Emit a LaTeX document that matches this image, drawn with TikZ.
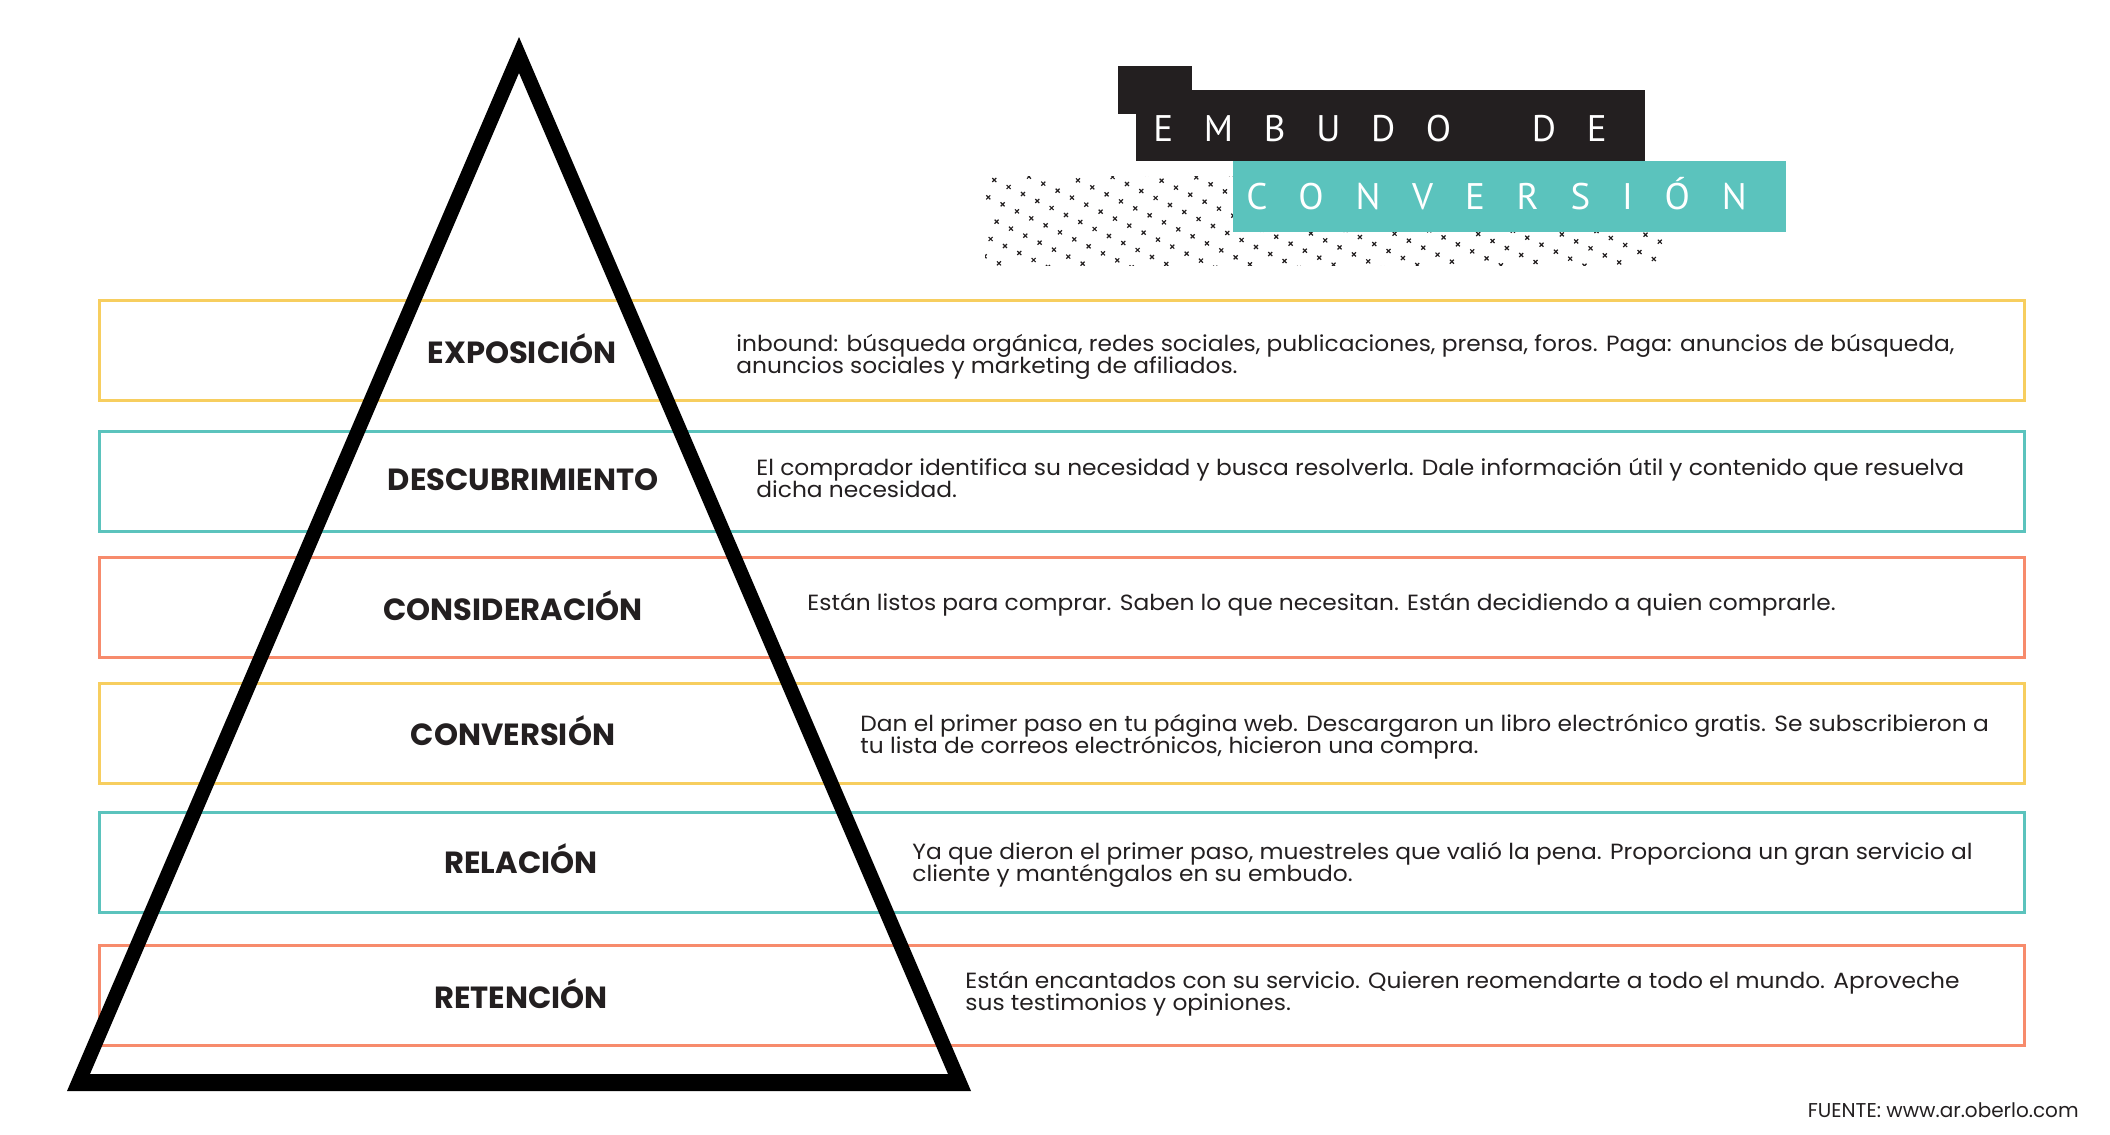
\documentclass[tikz,border=0pt]{standalone}
\usepackage{fontspec}
\setmainfont{Poppins}
\newfontfamily\infofont[FakeStretch=1.06]{Poppins}
\newfontfamily\titlefont[LetterSpace=83]{PT Sans}
\setlength{\lineskiplimit}{-10pt}

\definecolor{inkgray}{HTML}{231F20}
\definecolor{stageyellow}{HTML}{F7CE5F}
\definecolor{stageteal}{HTML}{5BC3BD}
\definecolor{stagesalmon}{HTML}{F78B6C}

\tikzstyle{stagebox} = [minimum width=962.5pt, minimum height=50pt, line width=1.5pt, inner sep=0pt]
\tikzstyle{stage} = [anchor=base, font=\fontsize{15.3}{17}\selectfont\bfseries, text=inkgray]
\tikzstyle{info} = [anchor=base west, align=left, inner sep=0pt, text=inkgray,
    font=\infofont\fontsize{11}{10.6}\selectfont]
\tikzstyle{title} = [anchor=base west, inner sep=0pt, text=white,
    font=\titlefont\fontsize{18.5}{20}\selectfont]
\tikzstyle{cross} = [line width=0.6pt, draw=inkgray]

\begin{document}
\begin{tikzpicture}[x=0.5pt, y=-0.5pt]
\useasboundingbox (0,0) rectangle (2110,1135);

% stage boxes
\node[stagebox, draw=stageyellow] (exposicion box) at (1062,350.5) {};
\node[stagebox, draw=stageteal] (descubrimiento box) at (1062,481.5) {};
\node[stagebox, draw=stagesalmon] (consideracion box) at (1062,607.5) {};
\node[stagebox, draw=stageyellow] (conversion box) at (1062,733.5) {};
\node[stagebox, draw=stageteal] (relacion box) at (1062,862.5) {};
\node[stagebox, draw=stagesalmon] (retencion box) at (1062,995.5) {};

% funnel
\fill[black, even odd rule] (519,37) -- (67,1091) -- (971,1091) -- cycle
    (519,73) -- (90,1074) -- (948,1074) -- cycle;

% stage names
\node[stage] (exposicion) at (522,363) {EXPOSICIÓN};
\node[stage] (descubrimiento) at (523,490) {DESCUBRIMIENTO};
\node[stage] (consideracion) at (513,620) {CONSIDERACIÓN};
\node[stage] (conversion) at (513,745) {CONVERSIÓN};
\node[stage] (relacion) at (521,873) {RELACIÓN};
\node[stage] (retencion) at (521,1008.5) {RETENCIÓN};

% descriptions (anchored at the last line)
\node[info] (exposicion text) at (736,373) {inbound: búsqueda orgánica, redes sociales, publicaciones, prensa, foros. Paga: anuncios de búsqueda,\\anuncios sociales y marketing de afiliados.};
\node[info] (descubrimiento text) at (756,497) {El comprador identifica su necesidad y busca resolverla. Dale información útil y contenido que resuelva\\dicha necesidad.};
\node[info] (consideracion text) at (807,610) {Están listos para comprar. Saben lo que necesitan. Están decidiendo a quien comprarle.};
\node[info] (conversion text) at (860,753) {Dan el primer paso en tu página web. Descargaron un libro electrónico gratis. Se subscribieron a\\tu lista de correos electrónicos, hicieron una compra.};
\node[info] (relacion text) at (912,881) {Ya que dieron el primer paso, muestreles que valió la pena. Proporciona un gran servicio al\\cliente y manténgalos en su embudo.};
\node[info] (retencion text) at (965,1010) {Están encantados con su servicio. Quieren reomendarte a todo el mundo. Aproveche\\sus testimonios y opiniones.};

% title
\fill[inkgray] (1118,66) rectangle (1192,114);
\fill[inkgray] (1136,90) rectangle (1645,161);
\begin{scope}
\clip (985,176) rectangle (1662,265);
\foreach \i in {0,...,50}
  \foreach \j in {-22,...,6}
    \draw[cross] ({994.3+14.33*\i-6*\j},{180+7*\i+17.33*\j}) ++(-2,-2) -- ++(4,4) ++(-4,0) -- ++(4,-4);
\end{scope}
\fill[stageteal] (1233,161) rectangle (1786,232);
\node[title] (embudo) at (1153,141) {EMBUDO\hspace{20pt} DE};
\node[title] (conversion title) at (1246,209) {\addfontfeature{LetterSpace=86}CONVERSIÓN};

\node[anchor=base east, inner sep=0pt, text=inkgray, font=\fontsize{10}{12}\selectfont] (fuente) at (2079,1117) {FUENTE: www.ar.oberlo.com};
\end{tikzpicture}
\end{document}
